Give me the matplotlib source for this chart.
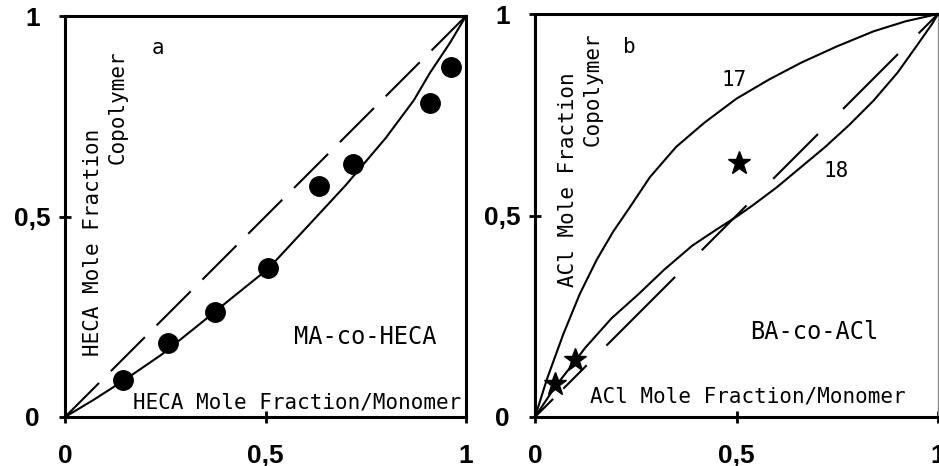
import matplotlib.pyplot as plt

# panel a: MA-co-HECA
a_curve_x = [0, 0.07, 0.145, 0.24, 0.34, 0.42, 0.507, 0.6, 0.7, 0.8, 0.87, 0.91, 0.96, 1.0]
a_curve_y = [0, 0.042, 0.09, 0.155, 0.235, 0.30, 0.37, 0.47, 0.578, 0.696, 0.79, 0.858, 0.933, 1.0]
a_diag_x = [0, 1]
a_diag_y = [0, 1]
a_dots_x = [0.145, 0.258, 0.374, 0.507, 0.634, 0.717, 0.910, 0.962]
a_dots_y = [0.092, 0.184, 0.263, 0.371, 0.576, 0.631, 0.783, 0.873]

# panel b: BA-co-ACl, curves 17 and 18
b17_x = [0, 0.03, 0.07, 0.111, 0.153, 0.194, 0.235, 0.285, 0.35, 0.42, 0.5, 0.58, 0.66, 0.75, 0.84, 0.92, 1]
b17_y = [0, 0.095, 0.205, 0.305, 0.39, 0.46, 0.52, 0.595, 0.67, 0.73, 0.79, 0.837, 0.879, 0.92, 0.957, 0.982, 1]
b18_x = [0, 0.05, 0.099, 0.124, 0.19, 0.257, 0.32, 0.39, 0.45, 0.5, 0.54, 0.6, 0.66, 0.72,
         0.78, 0.84, 0.9, 0.95, 0.985, 1]
b18_y = [0, 0.075, 0.138, 0.171, 0.245, 0.305, 0.365, 0.425, 0.465, 0.497, 0.525, 0.57, 0.62, 0.67,
         0.725, 0.785, 0.855, 0.925, 0.975, 1]
b_diag_x = [0, 1]
b_diag_y = [0, 1]
b_stars_x = [0.05, 0.099, 0.506]
b_stars_y = [0.083, 0.141, 0.630]

tick_vals = [0, 0.5, 1]
tick_labels = ["0", "0,5", "1"]

mono = "DejaVu Sans Mono"

fig = plt.figure(figsize=(9.39, 4.66), dpi=100)
fig.set_facecolor("w")
ax_a = fig.add_axes([65 / 939, 49 / 466, 401 / 939, 401 / 466])
ax_b = fig.add_axes([535 / 939, 49 / 466, 403 / 939, 403 / 466])

for ax in (ax_a, ax_b):
    ax.set_xlim(0, 1)
    ax.set_ylim(0, 1)
    for s in ax.spines.values():
        s.set_linewidth(2.2)
    ax.set_xticks(tick_vals, tick_labels, fontfamily="Liberation Sans",
                  fontweight="bold", fontsize=19)
    ax.set_yticks(tick_vals, tick_labels, fontfamily="Liberation Sans",
                  fontweight="bold", fontsize=19)
    ax.tick_params(direction="inout", length=8.5, width=2)
    ax.tick_params(axis="x", pad=15)
    ax.tick_params(axis="y", pad=19)
    for lab in ax.get_yticklabels():
        lab.set_ha("center")

# right border of panel b is faint in the scan
ax_b.spines["right"].set_linewidth(1)
ax_b.spines["right"].set_color("0.55")

# panel a
ax_a.plot(a_curve_x, a_curve_y, color="k", lw=1.5, clip_on=False)
ax_a.plot(a_diag_x, a_diag_y, color="k", lw=1.5, dashes=(23.1, 8), clip_on=False)
ax_a.plot(a_dots_x, a_dots_y, "o", color="k", ms=14, zorder=5, clip_on=False)
ax_a.text(0.232, 0.92, "a", family=mono, fontsize=15, ha="center", va="center")
ax_a.text(0.07, 0.436, "HECA Mole Fraction", family=mono, fontsize=15,
          rotation=90, ha="center", va="center")
ax_a.text(0.132, 0.773, "Copolymer", family=mono, fontsize=15,
          rotation=90, ha="center", va="center")
ax_a.text(0.748, 0.2, "MA-co-HECA", family=mono, fontsize=17, ha="center", va="center")
ax_a.text(0.579, 0.035, "HECA Mole Fraction/Monomer", family=mono, fontsize=15,
          ha="center", va="center")

# panel b
ax_b.plot(b17_x, b17_y, color="k", lw=1.5, clip_on=False)
ax_b.plot(b18_x, b18_y, color="k", lw=1.5, clip_on=False)
ax_b.plot(b_diag_x, b_diag_y, color="k", lw=1.5, clip_on=False,
          dashes=(12.3, 6.9, 15.9, 13.4, 46.6, 18.1, 30.4, 18.1, 30.4, 17, 37.3, 14, 13.7, 5))
ax_b.plot(b_stars_x, b_stars_y, "*", color="k", ms=17, zorder=5, clip_on=False)
ax_b.text(0.235, 0.918, "b", family=mono, fontsize=15, ha="center", va="center")
ax_b.text(0.495, 0.836, "17", family=mono, fontsize=15, ha="center", va="center")
ax_b.text(0.748, 0.61, "18", family=mono, fontsize=15, ha="center", va="center")
ax_b.text(0.082, 0.59, "ACl Mole Fraction", family=mono, fontsize=15,
          rotation=90, ha="center", va="center")
ax_b.text(0.144, 0.813, "Copolymer", family=mono, fontsize=15,
          rotation=90, ha="center", va="center")
ax_b.text(0.693, 0.211, "BA-co-ACl", family=mono, fontsize=17, ha="center", va="center")
ax_b.text(0.528, 0.05, "ACl Mole Fraction/Monomer", family=mono, fontsize=15,
          ha="center", va="center")

plt.savefig("out.png", dpi=100)
